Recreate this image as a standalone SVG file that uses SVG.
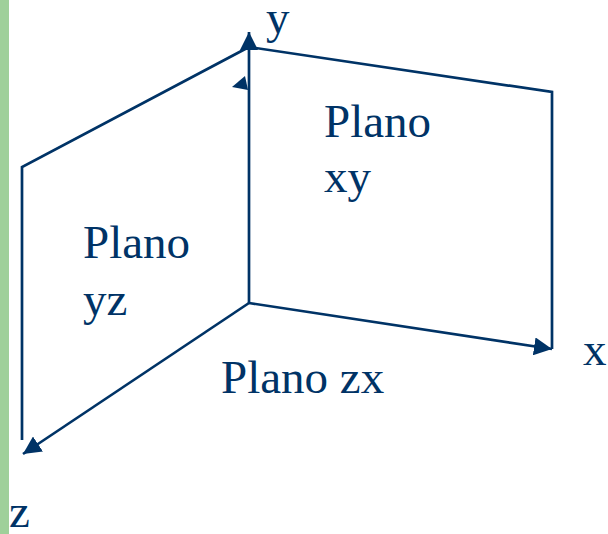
<svg xmlns="http://www.w3.org/2000/svg" width="608" height="534" viewBox="0 0 608 534">
<defs>
<style>
.ln{fill:none;stroke:#003366;stroke-width:2.7;stroke-linejoin:miter}
.t{font-family:"Liberation Serif","Times New Roman",serif;font-size:47px;fill:#003366}
</style>
<marker id="ah" markerUnits="userSpaceOnUse" markerWidth="19" markerHeight="18" refX="18" refY="9" orient="auto">
<path d="M0,0 L18,9 L0,18 z" fill="#003366"/>
</marker>
</defs>
<rect x="0" y="0" width="9" height="534" fill="#9fd09a"/>
<g id="planes">
<polyline class="ln" points="22,440 22,167 249,47 552,92 552,349"/>
</g>
<g id="connectors">
<line class="ln" x1="249" y1="303" x2="249" y2="32" marker-end="url(#ah)"/>
<line class="ln" x1="249" y1="303" x2="552" y2="349" marker-end="url(#ah)"/>
<line class="ln" x1="249" y1="303" x2="23" y2="454" marker-end="url(#ah)"/>
<polygon points="245,76 232,87 248,90" fill="#003366"/>
</g>
<g id="label-y"><text class="t" x="266" y="33">y</text></g>
<g id="label-x"><text class="t" x="583" y="365">x</text></g>
<g id="label-z"><text class="t" x="9" y="527">z</text></g>
<g id="plano-xy"><text class="t" x="324" y="137">Plano</text><text class="t" x="324" y="192">xy</text></g>
<g id="plano-yz"><text class="t" x="83" y="258">Plano</text><text class="t" x="83" y="315">yz</text></g>
<g id="plano-zx"><text class="t" x="221" y="393">Plano zx</text></g>
</svg>
